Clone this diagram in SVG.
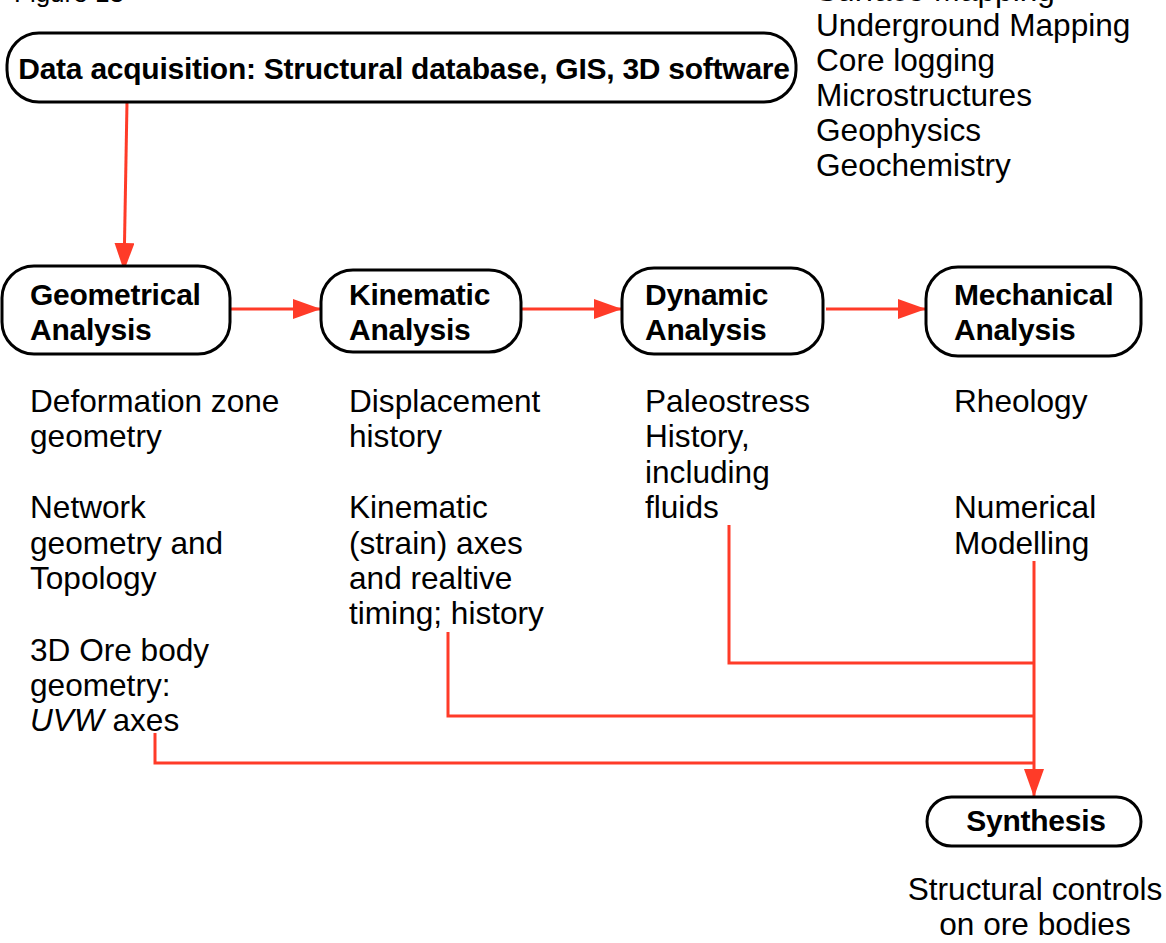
<svg xmlns="http://www.w3.org/2000/svg" width="1166" height="943" viewBox="0 0 1166 943">
  <style>
    .box { fill: #ffffff; stroke: #000000; stroke-width: 3; }
    .title { font-family: "Liberation Sans", Arial, sans-serif; font-weight: bold; font-size: 30px; letter-spacing: -0.25px; fill: #000000; }
    .body { font-family: "Liberation Sans", Arial, sans-serif; font-size: 31.6px; fill: #000000; }
    .wire { fill: none; stroke: #ff3b28; stroke-width: 3; }
  </style>
  <defs>
    <marker id="head" markerUnits="userSpaceOnUse" markerWidth="30" markerHeight="22" refX="28" refY="10" orient="auto" viewBox="0 0 30 22">
      <path d="M0,0 L28,10 L0,20 Z" fill="#ff3b28"/>
    </marker>
  </defs>

  <rect width="1166" height="943" fill="#ffffff"/>

  <!-- caption and data source list (top lines run past the upper edge) -->
  <text class="body" x="14" y="2" style="font-size:26px">Figure 13</text>
  <g id="sources">
    <text class="body" x="816" y="1">Surface Mapping</text>
    <text class="body" x="816" y="36">Underground Mapping</text>
    <text class="body" x="816" y="71">Core logging</text>
    <text class="body" x="816" y="106">Microstructures</text>
    <text class="body" x="816" y="141">Geophysics</text>
    <text class="body" x="816" y="176">Geochemistry</text>
  </g>

  <!-- connectors -->
  <g id="connectors">
    <path class="wire" d="M127,102 L124,271" marker-end="url(#head)"/>
    <path class="wire" d="M230,309 L321,309" marker-end="url(#head)"/>
    <path class="wire" d="M521,309 L622,309" marker-end="url(#head)"/>
    <path class="wire" d="M826,309 L926,309" marker-end="url(#head)"/>
    <path class="wire" d="M729,525 L729,663 L1034,663"/>
    <path class="wire" d="M448,632 L448,716 L1034,716"/>
    <path class="wire" d="M155,733 L155,763 L1034,763"/>
    <path class="wire" d="M1034,561 L1034,797" marker-end="url(#head)"/>
  </g>

  <g id="data-acquisition">
    <rect class="box" x="7" y="33" width="789" height="69" rx="32" ry="32"/>
    <text class="title" x="404" y="79" text-anchor="middle">Data acquisition: Structural database, GIS, 3D software</text>
  </g>

  <g id="geometrical">
    <rect class="box" x="2" y="266" width="228" height="88" rx="32" ry="32"/>
    <text class="title" x="30" y="305">Geometrical</text>
    <text class="title" x="30" y="340">Analysis</text>
  </g>
  <g id="geometrical-notes">
    <text class="body" x="30" y="412">Deformation zone</text>
    <text class="body" x="30" y="447">geometry</text>
    <text class="body" x="30" y="518">Network</text>
    <text class="body" x="30" y="554">geometry and</text>
    <text class="body" x="30" y="589">Topology</text>
    <text class="body" x="30" y="661">3D Ore body</text>
    <text class="body" x="30" y="696">geometry:</text>
    <text class="body" x="30" y="731"><tspan font-style="italic">UVW</tspan> axes</text>
  </g>

  <g id="kinematic">
    <rect class="box" x="321" y="270" width="200" height="82" rx="32" ry="32"/>
    <text class="title" x="349" y="305">Kinematic</text>
    <text class="title" x="349" y="340">Analysis</text>
  </g>
  <g id="kinematic-notes">
    <text class="body" x="349" y="412">Displacement</text>
    <text class="body" x="349" y="447">history</text>
    <text class="body" x="349" y="518">Kinematic</text>
    <text class="body" x="349" y="554">(strain) axes</text>
    <text class="body" x="349" y="589">and realtive</text>
    <text class="body" x="349" y="624">timing; history</text>
  </g>

  <g id="dynamic">
    <rect class="box" x="622" y="268" width="201" height="86" rx="32" ry="32"/>
    <text class="title" x="645" y="305">Dynamic</text>
    <text class="title" x="645" y="340">Analysis</text>
  </g>
  <g id="dynamic-notes">
    <text class="body" x="645" y="412">Paleostress</text>
    <text class="body" x="645" y="447">History,</text>
    <text class="body" x="645" y="483">including</text>
    <text class="body" x="645" y="518">fluids</text>
  </g>

  <g id="mechanical">
    <rect class="box" x="926" y="267" width="215" height="89" rx="32" ry="32"/>
    <text class="title" x="954" y="305">Mechanical</text>
    <text class="title" x="954" y="340">Analysis</text>
  </g>
  <g id="mechanical-notes">
    <text class="body" x="954" y="412">Rheology</text>
    <text class="body" x="954" y="518">Numerical</text>
    <text class="body" x="954" y="554">Modelling</text>
  </g>

  <g id="synthesis">
    <rect class="box" x="927" y="797" width="214" height="49" rx="24.5" ry="24.5"/>
    <text class="title" x="1036" y="831" text-anchor="middle">Synthesis</text>
  </g>
  <g id="synthesis-notes">
    <text class="body" x="1035" y="900" text-anchor="middle">Structural controls</text>
    <text class="body" x="1035" y="935" text-anchor="middle">on ore bodies</text>
  </g>
</svg>
